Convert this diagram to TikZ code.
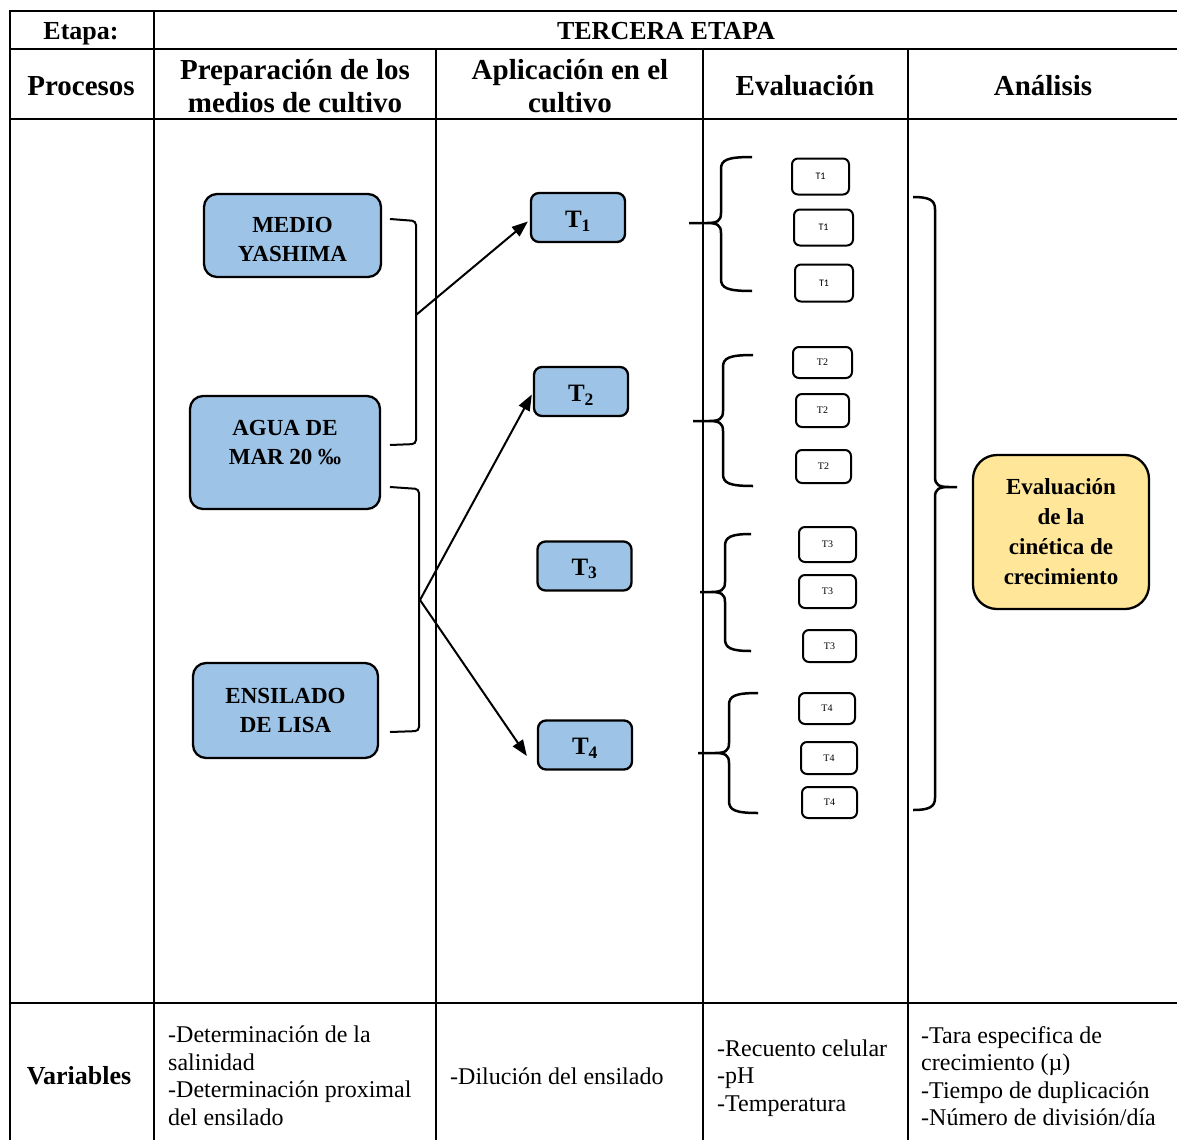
\documentclass[tikz,border=0pt]{standalone}
\usepackage{fontspec}
\setmainfont{Liberation Serif}
\newfontfamily\smallsans{Carlito}
\usetikzlibrary{arrows.meta}
\definecolor{boxblue}{RGB}{157,195,230}
\definecolor{boxyellow}{RGB}{255,230,153}

% curly brace: #1 arm x, #2 spine x, #3 top y, #4 cusp y, #5 bottom y, #6 tip x, #7 arm side (+1 right, -1 left)
\newcommand\flowbrace[7]{%
  \draw[brc] (#1,#3) .. controls ({#2+6*(#7)},#3) and (#2,{#3+3}) .. (#2,{#3+12})
    -- (#2,{#4-10}) .. controls (#2,{#4-2}) and ({#2-4*(#7)},#4) .. ({#2-14*(#7)},#4) -- (#6,#4)
    ({#2-14*(#7)},#4) .. controls ({#2-4*(#7)},#4) and (#2,{#4+2}) .. (#2,{#4+10})
    -- (#2,{#5-12}) .. controls (#2,{#5-3}) and ({#2+6*(#7)},#5) .. (#1,#5);}

\begin{document}
\begin{tikzpicture}[x=1pt,y=-1pt,
  grid/.style={line width=2pt},
  hdr/.style={font=\bfseries\fontsize{26}{30}\selectfont, inner sep=0pt},
  hdrtwo/.style={font=\bfseries\fontsize{29}{33}\selectfont, align=center, inner sep=0pt},
  vartext/.style={font=\fontsize{24}{27.5}\selectfont, align=left, anchor=west, inner sep=0pt},
  bluebox/.style={draw, line width=2.3pt, rounded corners=13pt, fill=boxblue, inner sep=0pt},
  boxtext/.style={font=\bfseries\fontsize{23}{29}\selectfont, align=center, inner sep=0pt},
  tbox/.style={draw, line width=2.3pt, rounded corners=8pt, fill=boxblue,
    minimum width=94pt, minimum height=49pt, inner sep=0pt},
  ttext/.style={font=\bfseries\fontsize{25}{30}\selectfont, inner sep=0pt},
  ybox/.style={draw, line width=2.3pt, rounded corners=24pt, fill=boxyellow,
    font=\bfseries\fontsize{23}{30}\selectfont, align=center, inner sep=0pt},
  smallbox/.style={draw, line width=2pt, rounded corners=6pt, inner sep=0pt,
    font=\fontsize{10}{12}\selectfont},
  brk/.style={line width=2pt, rounded corners=4pt},
  brc/.style={line width=2.5pt},
  arr/.style={line width=2pt, -{Triangle[length=16pt,width=12pt]}}
]
\useasboundingbox (0,0) rectangle (1177,1140);

% table rules
\draw[grid] (10,11) -- (1177,11);
\draw[grid] (10,49) -- (1177,49);
\draw[grid] (10,119) -- (1177,119);
\draw[grid] (10,1003) -- (1177,1003);
\draw[grid] (10,10) -- (10,1140);
\draw[grid] (154,10) -- (154,1140);
\draw[grid] (436,49) -- (436,1140);
\draw[grid] (703,49) -- (703,1140);
\draw[grid] (908,49) -- (908,1140);

% header rows
\node[hdr, anchor=base] (etapa) at (81,40) {Etapa:};
\node[hdr, anchor=base] (tercera) at (666,40) {TERCERA ETAPA};
\node[hdrtwo] (procesos) at (81,86) {Procesos};
\node[hdrtwo] (prep) at (295,86) {Preparación de los\\medios de cultivo};
\node[hdrtwo] (aplic) at (570,86) {Aplicación en el\\cultivo};
\node[hdrtwo] (evalh) at (805,86) {Evaluación};
\node[hdrtwo] (anal) at (1043,86) {Análisis};

% culture media
\node[bluebox, minimum width=177pt, minimum height=83pt] (yashima) at (292.5,235.5) {};
\node[boxtext] (yashimatxt) at (292.5,239) {MEDIO\\YASHIMA};
\node[bluebox, minimum width=190pt, minimum height=113pt] (agua) at (285,452.5) {};
\node[boxtext] (aguatxt) at (285,443) {AGUA DE\\MAR 20 ‰};
\node[bluebox, minimum width=185pt, minimum height=95pt] (ensilado) at (285.5,710.5) {};
\node[boxtext] (ensiladotxt) at (285.5,710) {ENSILADO\\DE LISA};

% treatments
\node[tbox] (t1) at (578,217.5) {};
\node[ttext] (t1txt) at (578,221) {T\textsubscript{1}};
\node[tbox] (t2) at (581,391.5) {};
\node[ttext] (t2txt) at (581,395) {T\textsubscript{2}};
\node[tbox] (t3) at (584.5,566) {};
\node[ttext] (t3txt) at (584.5,569) {T\textsubscript{3}};
\node[tbox] (t4) at (585,745) {};
\node[ttext] (t4txt) at (585,748) {T\textsubscript{4}};

% brackets grouping the media
\draw[brk] (390,219) -- (416,221) -- (416,444) -- (390,445);
\draw[brk] (390,487) -- (419,489) -- (419,731) -- (390,732);
\coordinate (j1) at (416,315);
\coordinate (j2) at (420,600);

\draw[arr] (j1) -- ([xshift=-2pt,yshift=-4pt]t1.west);
\draw[arr] (j2) -- ([xshift=-1pt,yshift=-3pt]t2.west);
\draw[arr] (j2) -- ([xshift=-10pt,yshift=-11pt]t4.west);

% replicate braces
\flowbrace{752}{721}{157}{223}{291}{689}{1}
\flowbrace{753}{723}{355}{421}{486}{693}{1}
\flowbrace{751}{725}{534}{592}{651}{700}{1}
\flowbrace{758}{729}{693}{753}{813}{698}{1}

% replicates
\node[smallbox, minimum width=57pt, minimum height=36pt, font=\smallsans\fontsize{10}{12}\selectfont] (r11) at (820.5,176.5) {T1};
\node[smallbox, minimum width=59pt, minimum height=36pt, font=\smallsans\fontsize{10}{12}\selectfont] (r12) at (823.5,227.5) {T1};
\node[smallbox, minimum width=58pt, minimum height=37pt, font=\smallsans\fontsize{10}{12}\selectfont] (r13) at (824,283) {T1};
\node[smallbox, minimum width=59pt, minimum height=31pt] (r21) at (822.5,362.5) {T2};
\node[smallbox, minimum width=53pt, minimum height=33pt] (r22) at (822.5,410.5) {T2};
\node[smallbox, minimum width=55pt, minimum height=33pt] (r23) at (823.5,466.5) {T2};
\node[smallbox, minimum width=57pt, minimum height=35pt] (r31) at (827.5,544.5) {T3};
\node[smallbox, minimum width=57pt, minimum height=33pt] (r32) at (827.5,591.5) {T3};
\node[smallbox, minimum width=53pt, minimum height=32pt] (r33) at (829.5,646) {T3};
\node[smallbox, minimum width=56pt, minimum height=31pt] (r41) at (827,708.5) {T4};
\node[smallbox, minimum width=56pt, minimum height=32pt] (r42) at (829,758) {T4};
\node[smallbox, minimum width=55pt, minimum height=31pt] (r43) at (829.5,802.5) {T4};

% analysis
\flowbrace{913}{935}{197}{487}{810}{957}{-1}
\node[ybox, minimum width=176pt, minimum height=154pt] (cinetica) at (1061,532) {Evaluación\\de la\\cinética de\\crecimiento};

% variables row
\node[hdr] (variables) at (79,1076) {Variables};
\node[vartext] (v1) at (168,1076) {-Determinación de la\\salinidad\\-Determinación proximal\\del ensilado};
\node[vartext] (v2) at (450,1076) {-Dilución del ensilado};
\node[vartext] (v3) at (717,1078) {-Recuento celular\\-pH\\-Temperatura};
\node[vartext] (v4) at (921,1076) {-Tara especifica de\\crecimiento (µ)\\-Tiempo de duplicación\\-Número de división/día};
\end{tikzpicture}
\end{document}
